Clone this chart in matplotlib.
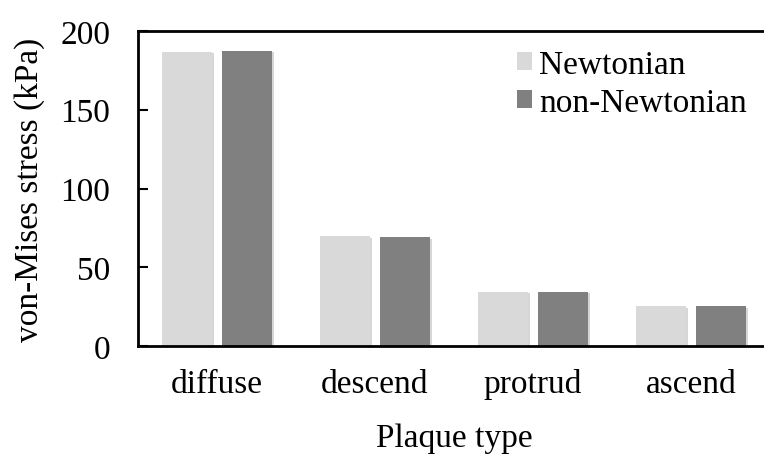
import numpy as np
import matplotlib.pyplot as plt
import matplotlib.patheffects as pe

plt.rcParams['font.family'] = ['Liberation Serif', 'DejaVu Serif']

# Plaque types and von-Mises stress (kPa)
plaque_types = ['diffuse', 'descend', 'protrud', 'ascend']
newtonian = [186.8, 69.6, 34.3, 25.3]
non_newtonian = [187.3, 69.0, 34.4, 25.3]

fig = plt.figure(figsize=(7.64, 4.56), dpi=100)
ax = fig.add_axes([138/764, 109/456, 632/764, 315/456])

x = np.arange(len(plaque_types))
w = 0.32
b1 = ax.bar(x - 0.19, newtonian, w, color='#d9d9d9', label='Newtonian')
b2 = ax.bar(x + 0.19, non_newtonian, w, color='#808080', label='non-Newtonian')

ax.set_xlim(-0.5, 3.5)
ax.set_ylim(0, 200)
ax.set_yticks([0, 50, 100, 150, 200])
ax.set_xticks(x)
ax.set_xticklabels(plaque_types)
ax.tick_params(axis='y', direction='in', length=7, width=1.5, labelsize=24, pad=20)
ax.tick_params(axis='x', length=0, labelsize=24, pad=16)

for s in ['left', 'top', 'bottom']:
    ax.spines[s].set_linewidth(2)
ax.spines['right'].set_visible(False)

ax.set_ylabel('von-Mises stress (kPa)', fontsize=24, labelpad=11)
ax.set_xlabel('Plaque type', fontsize=24, labelpad=17)

ax.legend(loc='upper right', bbox_to_anchor=(1.0, 1.015), frameon=False, fontsize=24,
          handlelength=0.45, handleheight=0.45, handletextpad=0.22, labelspacing=0.22,
          borderaxespad=0.3)

# soft shadow on the bars only (added after the legend so its squares stay flat)
shadow = [pe.SimplePatchShadow(offset=(1, -1), shadow_rgbFace='#999999', alpha=0.4), pe.Normal()]
for b in list(b1) + list(b2):
    b.set_path_effects(shadow)

plt.savefig('out.png', dpi=100)
